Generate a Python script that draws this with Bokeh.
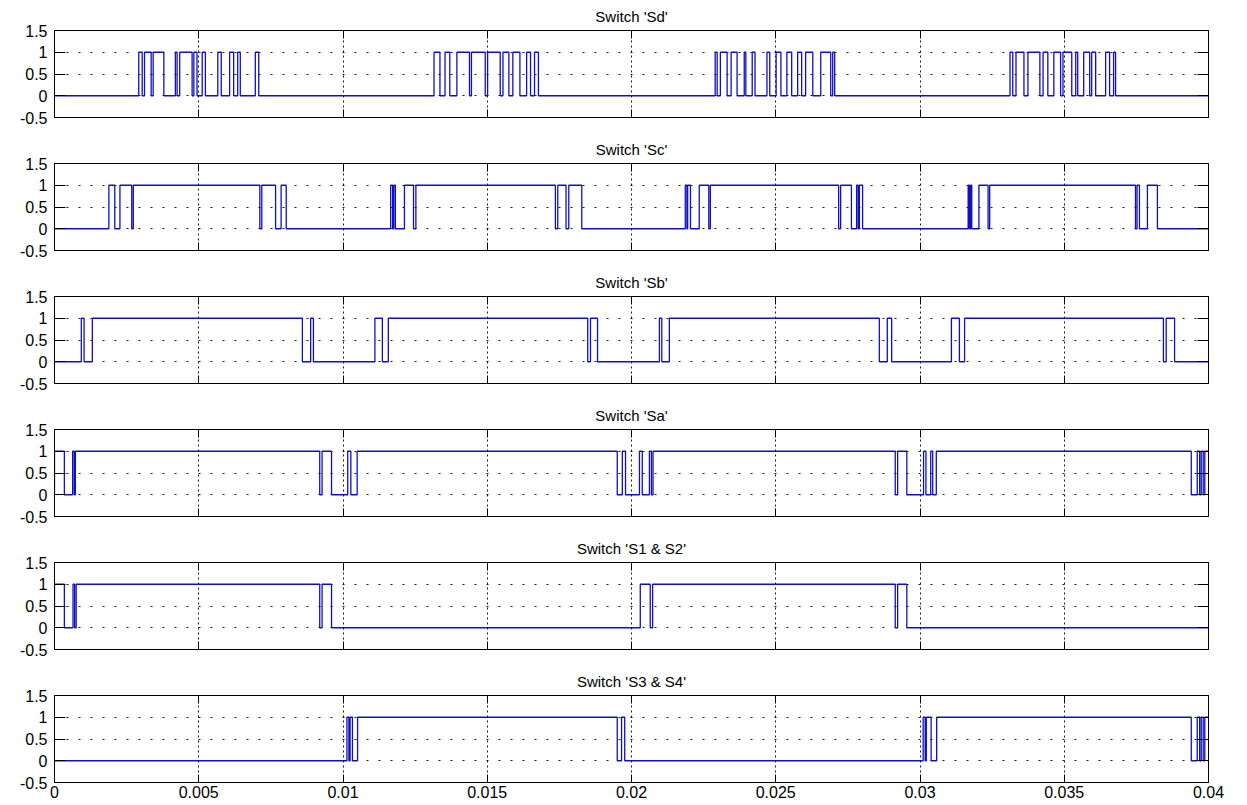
from bokeh.plotting import figure
from bokeh.layouts import column
from bokeh.models import Range1d, FixedTicker, NumeralTickFormatter, LinearAxis, Title
from bokeh.embed import file_html
from bokeh.resources import INLINE

# ---------------- data (switching instants, seconds) ----------------
T_START = 0.0
T_END = 0.04
x_ticks = [0, 0.005, 0.01, 0.015, 0.02, 0.025, 0.03, 0.035, 0.04]
y_ticks = [-0.5, 0, 0.5, 1, 1.5]

titles = ["Switch 'Sd'", "Switch 'Sc'", "Switch 'Sb'", "Switch 'Sa'",
          "Switch 'S1 & S2'", "Switch 'S3 & S4'"]

# each list holds the instants at which the switch toggles (starting from 0)
sd_edges = [0.00292, 0.00304, 0.00312, 0.00335, 0.00342, 0.00379, 0.00419, 0.00425,
            0.00434, 0.00477, 0.00483, 0.00494, 0.00512, 0.00523, 0.00566, 0.00578,
            0.00607, 0.00621, 0.00635, 0.00644, 0.00696, 0.00708,
            0.013155, 0.01336, 0.013537, 0.013701, 0.013947, 0.014384, 0.014452, 0.01493,
            0.015012, 0.015449, 0.015545, 0.01575, 0.015887, 0.016132, 0.016365, 0.016501,
            0.016638, 0.016774,
            0.0229, 0.022969, 0.02308, 0.023314, 0.023453, 0.02366, 0.023908, 0.023963,
            0.024184, 0.024281, 0.024695, 0.024792, 0.025013, 0.025179, 0.025386, 0.025552,
            0.025759, 0.025897, 0.026035, 0.026284, 0.02656, 0.026905, 0.026974, 0.027043,
            0.03312, 0.033216, 0.033327, 0.033603, 0.033741, 0.034155, 0.034266, 0.034431,
            0.034639, 0.034873, 0.034956, 0.03526, 0.035398, 0.035467, 0.035674, 0.035882,
            0.035951, 0.036089, 0.036434, 0.036572, 0.03671, 0.036779]

sc_edges = [0.001885, 0.00209, 0.002268, 0.002677, 0.002732,
            0.007117, 0.007185, 0.007663, 0.007855, 0.008032,
            0.011652, 0.01172, 0.011761, 0.011816, 0.01213, 0.012444, 0.012526,
            0.017362, 0.017444, 0.017731, 0.017826, 0.018277,
            0.021864, 0.02192, 0.021947, 0.022044, 0.022348, 0.022679, 0.022734,
            0.027181, 0.02725, 0.027623, 0.027803, 0.027858, 0.027899, 0.02801,
            0.031669, 0.031711, 0.031752, 0.031794, 0.032042, 0.03236, 0.032415,
            0.037469, 0.037524, 0.037607, 0.037883, 0.038229]

sb_edges = [0.000929, 0.001025, 0.001311,
            0.008592, 0.008879, 0.008975,
            0.011106, 0.011365, 0.01157,
            0.018482, 0.018578, 0.018823,
            0.020967, 0.02105, 0.021312,
            0.02859, 0.028866, 0.029018,
            0.031089, 0.031366, 0.031545,
            0.038437, 0.038533, 0.038824]

sa_edges = [0.0, 0.000342, 0.000628, 0.000683, 0.000724,
            0.009193, 0.009275, 0.009603, 0.010163, 0.010272, 0.010491,
            0.019506, 0.019682, 0.019793, 0.020276, 0.020373, 0.020621, 0.02069, 0.020746,
            0.029142, 0.029225, 0.029543, 0.030123, 0.030206, 0.030372, 0.030441, 0.030565,
            0.039403, 0.03961, 0.039693, 0.039748, 0.039817, 0.039872]

s12_edges = [0.0, 0.000342, 0.000642, 0.000697, 0.000751,
             0.009193, 0.009275, 0.009603,
             0.020304, 0.020649, 0.020732,
             0.029142, 0.029225, 0.029543]

s34_edges = [0.010136, 0.010204, 0.010245, 0.010327, 0.010505,
             0.019506, 0.019655, 0.019765,
             0.030109, 0.030178, 0.030219, 0.030385, 0.030578,
             0.039403, 0.03961, 0.039693, 0.039748, 0.039817, 0.039872]

series = [sd_edges, sc_edges, sb_edges, sa_edges, s12_edges, s34_edges]

LINE_COLOR = "#1010c0"
FONT = "Liberation Sans"


def step_points(edges):
    xs = [T_START]
    ys = [0]
    state = 0
    for t in edges:
        state = 1 - state
        xs.append(t)
        ys.append(state)
    xs.append(T_END)
    ys.append(state)
    return xs, ys


def hidden_axis(ticks, tick_len):
    return LinearAxis(ticker=FixedTicker(ticks=ticks),
                      major_label_text_font_size="0px", major_label_text_color=None,
                      major_label_standoff=0, major_tick_in=tick_len, major_tick_out=0,
                      minor_tick_line_color=None, axis_line_color="black")


def make_panel(title, edges, last):
    p = figure(frame_width=1154, frame_height=87,
               x_range=Range1d(T_START, T_END), y_range=Range1d(-0.5, 1.5),
               output_backend="svg", toolbar_location=None,
               min_border_left=54, min_border_right=31,
               min_border_top=30, min_border_bottom=(20 if last else 16))
    p.outline_line_color = "black"
    p.outline_line_width = 1
    p.outline_line_alpha = 1
    p.background_fill_color = "white"
    p.border_fill_color = "white"

    xs, ys = step_points(edges)
    p.step(xs, ys, mode="after", line_color=LINE_COLOR, line_width=1.3)

    # bottom / left axes
    xa = p.xaxis[0]
    xa.ticker = FixedTicker(ticks=x_ticks)
    xa.formatter = NumeralTickFormatter(format="0.[000]")
    xa.major_tick_in = 8
    xa.major_tick_out = 0
    xa.minor_tick_line_color = None
    xa.axis_line_color = "black"
    xa.major_label_text_font = FONT
    xa.major_label_text_color = "black"
    xa.major_label_standoff = 3
    if last:
        xa.major_label_text_font_size = "16px"
    else:
        xa.major_label_text_font_size = "0px"
        xa.major_label_text_color = None
        xa.major_label_standoff = 0

    ya = p.yaxis[0]
    ya.ticker = FixedTicker(ticks=y_ticks)
    ya.formatter = NumeralTickFormatter(format="0.[0]")
    ya.major_tick_in = 11
    ya.major_tick_out = 0
    ya.minor_tick_line_color = None
    ya.axis_line_color = "black"
    ya.major_label_text_font = FONT
    ya.major_label_text_font_size = "16px"
    ya.major_label_text_color = "black"
    ya.major_label_standoff = 7

    # box ticks on top and right
    p.add_layout(hidden_axis(y_ticks, 11), "right")
    p.add_layout(hidden_axis(x_ticks, 8), "above")
    p.add_layout(Title(text=title, align="center", text_font=FONT, text_font_size="15px",
                       text_font_style="normal", text_color="black", standoff=11), "above")

    # grid
    p.xgrid.ticker = FixedTicker(ticks=x_ticks[1:-1])
    p.ygrid.ticker = FixedTicker(ticks=y_ticks[1:-1])
    p.xgrid.grid_line_color = "black"
    p.ygrid.grid_line_color = "black"
    p.xgrid.grid_line_dash = "2 3"
    p.ygrid.grid_line_dash = "2 10"
    p.xgrid.grid_line_alpha = 0.9
    p.ygrid.grid_line_alpha = 0.9
    return p


figs = [make_panel(t, e, i == len(titles) - 1) for i, (t, e) in enumerate(zip(titles, series))]
layout = column(*figs, spacing=0)

open("out.html", "w").write(file_html(layout, INLINE))
